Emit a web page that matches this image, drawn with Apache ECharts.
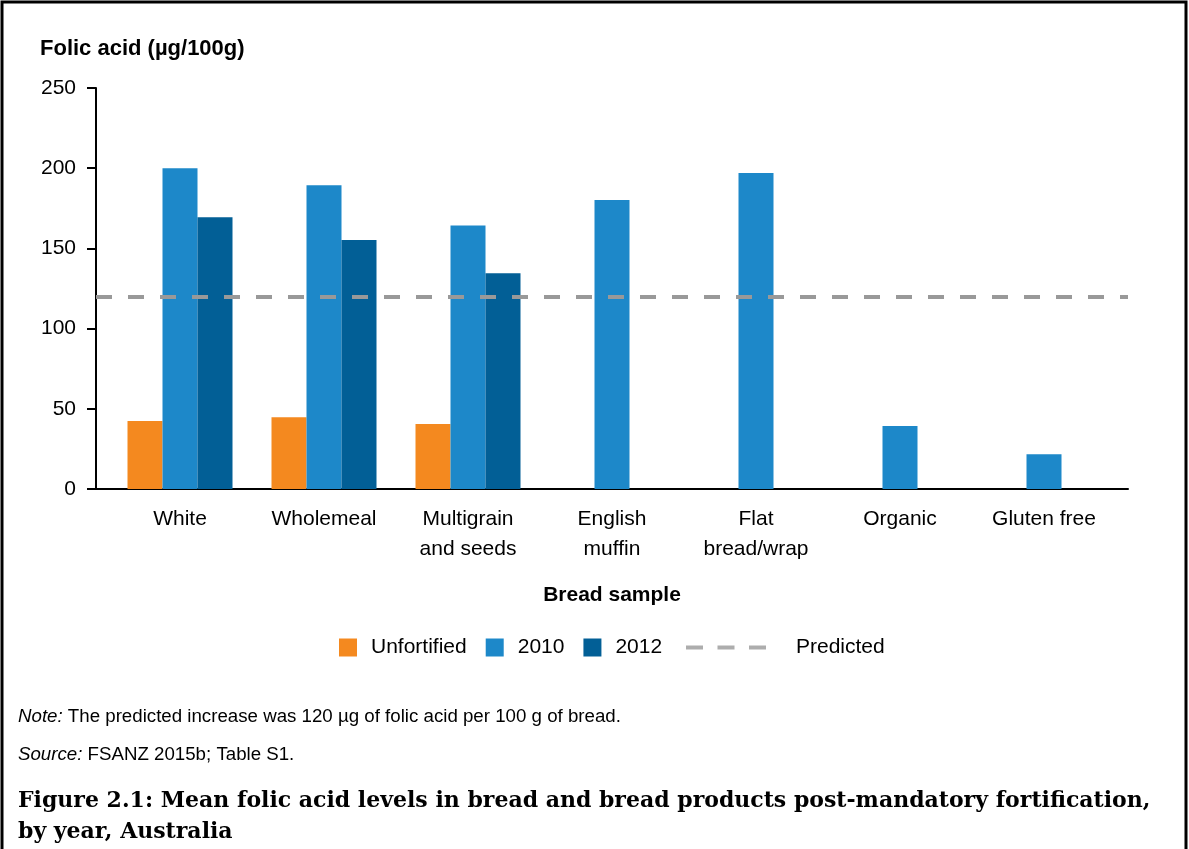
<!DOCTYPE html>
<html>
<head>
<meta charset="utf-8">
<script src="https://cdn.jsdelivr.net/npm/echarts@6/dist/echarts.min.js"></script>
<style>
html,body{margin:0;padding:0;background:#fff;}
#chart{width:1189px;height:849px;}
</style>
</head>
<body>
<div id="chart"></div>
<script>
// ---- data ----
const categories = ['White', 'Wholemeal', 'Multigrain\nand seeds', 'English\nmuffin', 'Flat\nbread/wrap', 'Organic', 'Gluten free'];
const unfortified = [42.4, 44.7, 40.5, null, null, null, null];
const values2010 = [200, 189.3, 164.2, 180.2, 197, 39.3, 21.6];
const values2012 = [169.4, 155.2, 134.5, null, null, null, null];
const predictedValue = 120;
const yMin = 0, yMax = 250, yStep = 50;
const seriesNames = ['Unfortified', '2010', '2012', 'Predicted'];

const FONT = 'Liberation Sans, Arial, sans-serif';
const SERIF = 'DejaVu Serif, Liberation Serif, serif';
const colors = { unf: '#F4891F', y2010: '#1D88C9', y2012: '#025F96', pred: '#999999' };
const dashIcon = 'path://M0,0h17v4h-17z M31.5,0h17v4h-17z M63,0h17v4h-17z';

const chart = echarts.init(document.getElementById('chart'), null, { renderer: 'canvas' });

const option = {
  backgroundColor: '#ffffff',
  animation: false,
  textStyle: { fontFamily: FONT },
  title: [
    { text: 'Folic acid (µg/100g)', left: 40, top: 38, padding: 0,
      textStyle: { fontFamily: FONT, fontSize: 22, fontWeight: 'bold', color: '#000' } },
    { text: '{i|Note:} The predicted increase was 120 µg of folic acid per 100 g of bread.', left: 18, top: 707, padding: 0,
      textStyle: { fontFamily: FONT, fontSize: 18.7, fontWeight: 'normal', color: '#000',
        rich: { i: { fontFamily: FONT, fontSize: 18.7, fontStyle: 'italic', color: '#000' } } } },
    { text: '{i|Source:} FSANZ 2015b; Table S1.', left: 18, top: 745, padding: 0,
      textStyle: { fontFamily: FONT, fontSize: 18.7, fontWeight: 'normal', color: '#000',
        rich: { i: { fontFamily: FONT, fontSize: 18.7, fontStyle: 'italic', color: '#000' } } } },
    { text: 'Figure 2.1: Mean folic acid levels in bread and bread products post-mandatory fortification,\nby year, Australia',
      left: 18, top: 786, padding: 0,
      textStyle: { fontFamily: SERIF, fontSize: 22, fontWeight: 'bold',
        color: '#000', lineHeight: 31 } }
  ],
  legend: [
    { data: seriesNames.slice(0, 3), left: 334, top: 632, orient: 'horizontal',
      itemWidth: 18, itemHeight: 18, itemGap: 19, icon: 'rect',
      textStyle: { fontFamily: FONT, fontSize: 21, color: '#000', padding: [0, 0, 0, 9] } },
    { data: [{ name: seriesNames[3], icon: dashIcon }], left: 681, top: 632,
      itemWidth: 80, itemHeight: 4,
      textStyle: { fontFamily: FONT, fontSize: 21, color: '#000', padding: [3, 0, 0, 25] } }
  ],
  grid: [
    { left: 108, right: 73, top: 88, bottom: 360, containLabel: false },
    { left: 96, right: 61, top: 88, bottom: 360, containLabel: false }
  ],
  xAxis: [
    { type: 'category', gridIndex: 0, data: categories, boundaryGap: true,
      axisLine: { show: false }, axisTick: { show: false },
      axisLabel: { fontFamily: FONT, fontSize: 21, color: '#000', lineHeight: 30, margin: 15, interval: 0 } },
    { type: 'value', gridIndex: 1, min: 0, max: 1,
      axisLine: { show: true, onZero: false, lineStyle: { color: '#000', width: 2 } },
      axisTick: { show: false }, axisLabel: { show: false }, splitLine: { show: false },
      name: 'Bread sample', nameLocation: 'middle', nameGap: 96,
      nameTextStyle: { fontFamily: FONT, fontSize: 21, fontWeight: 'bold', color: '#000' } }
  ],
  yAxis: [
    { type: 'value', gridIndex: 0, min: yMin, max: yMax, interval: yStep, offset: 12,
      axisLine: { show: true, lineStyle: { color: '#000', width: 2 } },
      axisTick: { show: true, length: 9, inside: false, lineStyle: { color: '#000', width: 2 } },
      axisLabel: { fontFamily: FONT, fontSize: 21, color: '#000', margin: 20 },
      splitLine: { show: false } },
    { type: 'value', gridIndex: 1, min: yMin, max: yMax, interval: yStep, show: false }
  ],
  series: [
    { name: seriesNames[0], type: 'bar', xAxisIndex: 0, yAxisIndex: 0, data: unfortified,
      barWidth: 35, barGap: '0%', itemStyle: { color: colors.unf } },
    { name: seriesNames[1], type: 'bar', xAxisIndex: 0, yAxisIndex: 0, data: values2010,
      barWidth: 35, barGap: '0%', itemStyle: { color: colors.y2010 } },
    { name: seriesNames[2], type: 'bar', xAxisIndex: 0, yAxisIndex: 0, data: values2012,
      barWidth: 35, barGap: '0%', itemStyle: { color: colors.y2012 } },
    { name: seriesNames[3], type: 'scatter', xAxisIndex: 1, yAxisIndex: 1, data: [],
      itemStyle: { color: colors.pred },
      markLine: { silent: true, symbol: ['none', 'none'], label: { show: false },
        lineStyle: { color: colors.pred, width: 4, type: [16, 16] },
        data: [{ yAxis: predictedValue }] } }
  ],
  graphic: [
    { type: 'polyline', shape: { points: [[2, 849], [2, 2], [1186, 2], [1186, 849]] },
      style: { stroke: '#000', lineWidth: 3, fill: null }, silent: true }
  ]
};
chart.setOption(option);
</script>
</body>
</html>
